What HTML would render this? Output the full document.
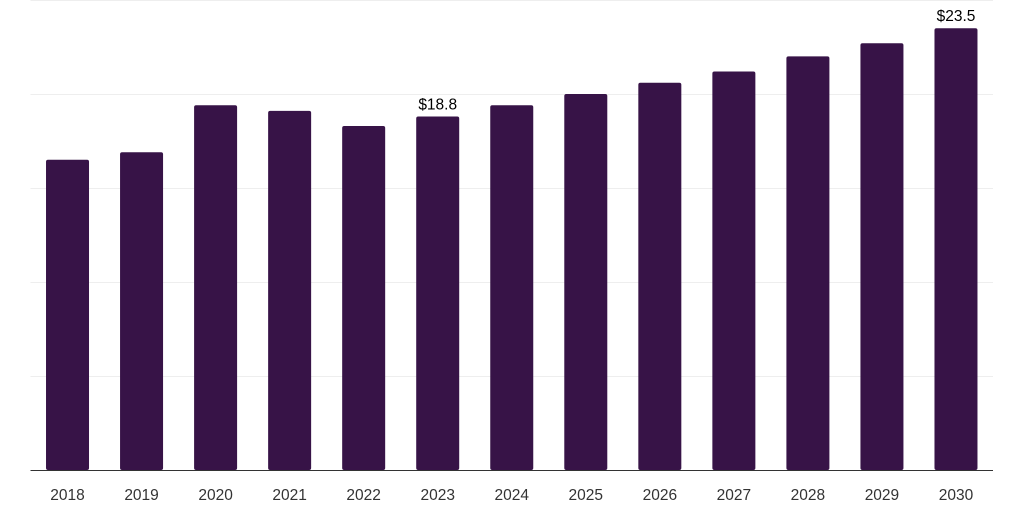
<!DOCTYPE html>
<html><head><meta charset="utf-8"><style>
html,body{margin:0;padding:0;background:#fff;}
svg{display:block;font-family:"Liberation Sans",Arial,sans-serif;}
</style></head><body>
<svg id="chart" width="1024" height="512" viewBox="0 0 1024 512"></svg>
<script>
const categories=["2018","2019","2020","2021","2022","2023","2024","2025","2026","2027","2028","2029","2030"];
const values=[16.5,16.9,19.4,19.1,18.3,18.8,19.4,20.0,20.6,21.2,22.0,22.7,23.5];
const labels=["","","","","","$18.8","","","","","","","$23.5"];
const gridTicks=[0,5,10,15,20,25];
const svg=document.getElementById('chart');
const NS="http://www.w3.org/2000/svg";
const x0=30.5,x1=993,yBase=470,yTop=0,vMax=25;
const step=(x1-x0)/categories.length,bw=43;
const y=v=>yBase-(v/vMax)*(yBase-yTop);
const xc=i=>x0+step*(i+0.5);
function mk(t,a){const e=document.createElementNS(NS,t);for(const k in a)e.setAttribute(k,a[k]);svg.appendChild(e);return e;}
gridTicks.forEach(t=>{if(t===0)return;
const g=mk('line',{x1:x0,x2:x1,y1:y(t)+0.5,y2:y(t)+0.5,stroke:'#eeeeee','stroke-width':1});

});
values.forEach((v,i)=>{
const r=mk('rect',{x:xc(i)-bw/2,y:y(v),width:bw,height:yBase-y(v),fill:'#371347',rx:2});


const t=mk('text',{x:xc(i),y:500,'text-anchor':'middle','font-size':15.5,fill:'#333'});
t.textContent=categories[i];


if(labels[i]){const l=mk('text',{x:xc(i),y:y(v)-7,'text-anchor':'middle','font-size':15.5,fill:'#000'});
l.textContent=labels[i];

}
});
const ax=mk('line',{x1:x0,x2:x1,y1:yBase+0.5,y2:yBase+0.5,stroke:'#333','stroke-width':1});


</script>
</body></html>
